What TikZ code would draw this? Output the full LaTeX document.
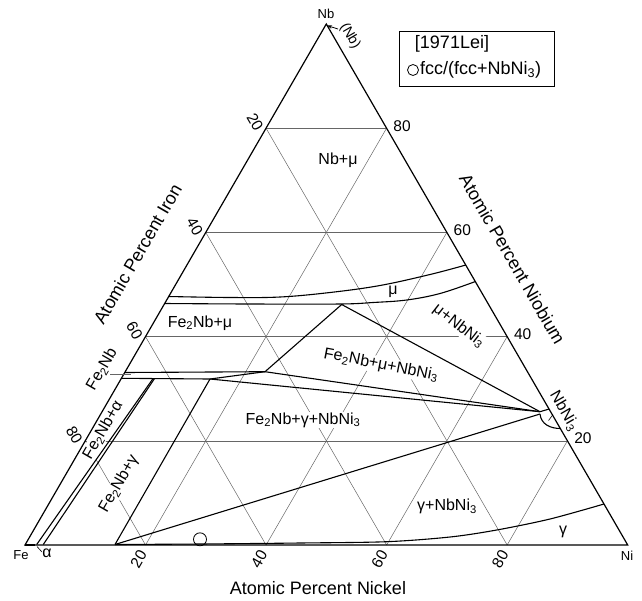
\documentclass[tikz,border=0pt]{standalone}
\usepackage{fontspec}
\setmainfont{Liberation Sans}
\usetikzlibrary{arrows.meta}
\begin{document}
\begin{tikzpicture}[x=1pt,y=-1pt,
  gridline/.style={line width=0.5pt, black!60},
  bnd/.style={line width=1.1pt, line join=round},
  edgeline/.style={line width=1.2pt},
  lab/.style={font=\fontsize{16}{17}\selectfont, fill=white, inner sep=1pt},
  ticklab/.style={font=\fontsize{15.5}{16}\selectfont, inner sep=0pt},
  ttl/.style={font=\fontsize{18}{20}\selectfont, inner sep=0pt},
  vtx/.style={font=\fontsize{13}{14}\selectfont, inner sep=0pt},
  legtxt/.style={font=\fontsize{18}{19}\selectfont, inner sep=0pt}]
\useasboundingbox (0,0) rectangle (642,600);
\coordinate (Fe) at (25,545);
\coordinate (Ni) at (627.7,545);
\coordinate (Nb) at (326.3,24);
% grid
\foreach \k in {20,40,60,80}{
  \pgfmathsetmacro\w{\k/100}
  \pgfmathsetmacro\v{1-\k/100}
  \draw[gridline] (barycentric cs:Fe=\v,Nb=\w) -- (barycentric cs:Ni=\v,Nb=\w);
  \draw[gridline] (barycentric cs:Fe=\v,Ni=\w) -- (barycentric cs:Nb=\v,Ni=\w);
  \draw[gridline] (barycentric cs:Ni=\v,Fe=\w) -- (barycentric cs:Nb=\v,Fe=\w);
  \path (barycentric cs:Fe=\v,Ni=\w) ++(-7,14) node[ticklab,rotate=60] {\k};
  \path (barycentric cs:Ni=\v,Nb=\w) ++(15.5,-2.5) node[ticklab] {\k};
  \path (barycentric cs:Fe=\w,Nb=\v) ++(-11,-6) node[ticklab,rotate=-60] {\k};
}
% titles
\node[ttl,rotate=60] (tFe) at (137.5,254) {Atomic Percent Iron};
\node[ttl,rotate=-60] (tNb) at (512.5,259) {Atomic Percent Niobium};
\node[ttl] (tNi) at (318,588) {Atomic Percent Nickel};
% vertex labels
\node[vtx] (lNb) at (326,14) {Nb};
\node[vtx] (lFe) at (21,555) {Fe};
\node[vtx] (lNi) at (627,556) {Ni};
% legend
\draw[line width=0.8pt] (399,31) rectangle (554,86);
\node[legtxt] (leg1) at (452,44) {[1971Lei]};
\draw[line width=0.8pt] (413,70) circle (5.5);
\node[legtxt, anchor=west] (leg2) at (420,70) {fcc/(fcc+NbNi\textsubscript{3})};
% phase labels
\node[lab] (r1) at (338,160) {Nb+μ};
\node[lab] (r2) at (393,291.5) {μ};
\node[lab] (r3) at (200,323) {Fe\textsubscript{2}Nb+μ};
\node[lab,rotate=-38] (r4) at (459,326) {μ+NbNi\textsubscript{3}};
\node[lab,rotate=-11] (r5) at (381,365) {Fe\textsubscript{2}Nb+μ+NbNi\textsubscript{3}};
\node[lab] (r6) at (303,420) {Fe\textsubscript{2}Nb+γ+NbNi\textsubscript{3}};
\node[lab,rotate=60] (r7) at (103,430) {Fe\textsubscript{2}Nb+α};
\node[lab,rotate=60] (r8) at (119,484) {Fe\textsubscript{2}Nb+γ};
\node[lab,rotate=60,fill=none] (r9) at (102,369) {Fe\textsubscript{2}Nb};
\node[lab] (r10) at (447,506.5) {γ+NbNi\textsubscript{3}};
\node[lab] (r11) at (563,531.5) {γ};
\node[lab,fill=none] (r12) at (47,553) {α};
\node[lab,rotate=-60,fill=none] (r13) at (564,411) {NbNi\textsubscript{3}};
\node[lab,rotate=-60,fill=none,font=\fontsize{14}{15}\selectfont] (r14) at (350,36) {(Nb)};
% triangle
\draw[edgeline] (Fe) -- (Ni) -- (Nb) -- cycle;
% key points
\coordinate (A1) at (124.7,372.5);
\coordinate (A2) at (121.4,378.3);
\coordinate (P1) at (265,371.7);
\coordinate (P2) at (210,379);
\coordinate (M) at (341.7,304.5);
\coordinate (N) at (540,411.7);
\coordinate (N2) at (540,414);
\coordinate (G) at (115,544.5);
% mu band
\draw[bnd] plot[smooth,tension=0.6] coordinates {(168.6,296.5) (230,297.5) (280,297) (330,292.5) (380,285.5) (430,274.5) (465.9,265)};
\draw[bnd] plot[smooth,tension=0.6] coordinates {(164.6,303.5) (250,304) (340,304) (373,302.5) (406.7,300) (440,293.5) (475.4,281.5)};
% Fe2Nb region and tie triangles
\draw[bnd] (A1) -- (P1);
\draw[bnd] (A2) -- (P2) -- (P1);
\draw[bnd] (P1) -- (M) -- (N);
\draw[bnd] (P1) -- (N);
\draw[bnd] (P2) -- (N);
\draw[bnd] (G) -- (N2);
\draw[bnd] (G) -- (P2);
% alpha side
\draw[bnd] (36.7,544.5) -- (153,378.6);
\draw[bnd] (43.3,544.5) -- (154.5,378.6);
\draw[line width=2.2pt] (Fe) -- (35,545);
% gamma boundary
\draw[bnd] plot[smooth] coordinates {(G) (200,544) (300,543) (386.7,541.7) (450,537) (496.7,530) (550,519) (604,504)};
% NbNi3 lens
\draw[bnd] (N) -- (549.1,409);
\draw[bnd] (N2) .. controls (541,424) and (550,428.5) .. (560.4,428.5);
% leaders
\draw[gridline] (110,374.5) -- (131,374.5);
\draw[line width=0.6pt] (37,546.5) -- (42,552);
\draw[line width=0.6pt] (548.5,420.5) -- (553,414.5);
\draw[line width=0.8pt,-{Stealth[length=5pt,width=3.5pt]}] (338,29) -- (327,25.5);
% data point
\draw[line width=0.8pt] (200,539.3) circle (6.5);
\end{tikzpicture}
\end{document}
